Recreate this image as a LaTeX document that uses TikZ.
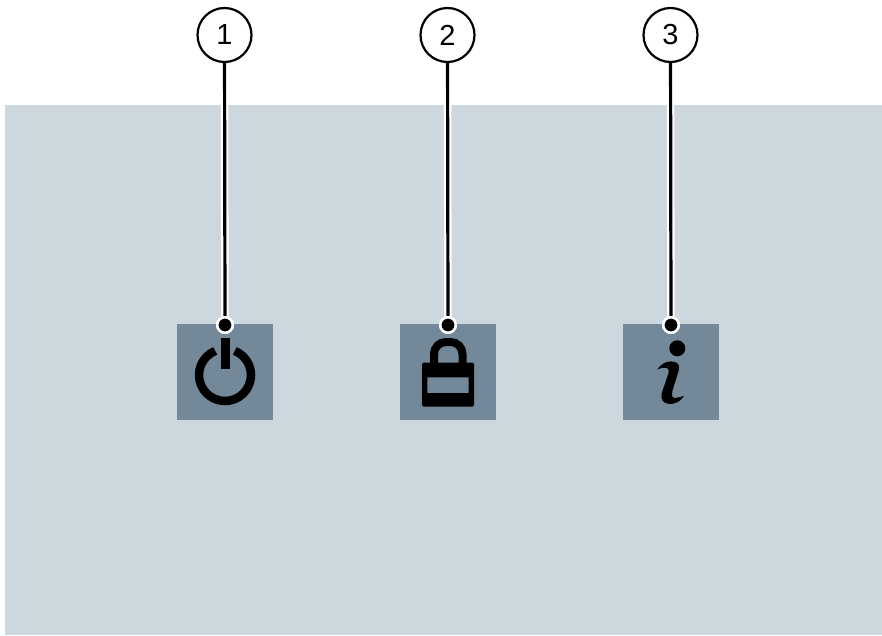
\documentclass[tikz,border=0pt]{standalone}
\usepackage{fontspec}
\setmainfont{Liberation Sans}
\definecolor{panel}{HTML}{CDD7DE}
\definecolor{tile}{HTML}{738999}
\tikzset{
  callout/.style={circle,draw=black,line width=2.2pt,fill=white,minimum size=54pt,inner sep=0pt,font=\fontsize{29}{31}\selectfont},
  tilebox/.style={fill=tile,draw=none,minimum size=96pt,inner sep=0pt},
  anchordot/.style={circle,fill=black,draw=white,line width=2.5pt,minimum size=15.5pt,inner sep=0pt},
  halo/.style={draw=white,line width=7.5pt},
  leader/.style={draw=black,line width=3.2pt},
}
\begin{document}
\begin{tikzpicture}[x=1pt,y=-1pt]
\useasboundingbox (0,0) rectangle (882,635);
\fill[panel] (4.5,105) rectangle (882,635);
\node[tilebox] (t1) at (225,372) {};
\node[tilebox] (t2) at (448,372) {};
\node[tilebox] (t3) at (671,372) {};
\node[callout] (c1) at (224.5,35) {1};
\node[callout] (c2) at (447.5,35) {2};
\node[callout] (c3) at (670.5,35) {3};
\coordinate (p1) at (224.5,105);
\coordinate (p2) at (447.5,105);
\coordinate (p3) at (670.5,105);
\node[anchordot] (d1) at (225,325) {};
\node[anchordot] (d2) at (448,325) {};
\node[anchordot] (d3) at (671,325) {};
\foreach \i in {1,2,3}{
  \draw[halo] (p\i) -- (d\i);
  \draw[leader] (c\i) -- (d\i);
}
\foreach \i in {1,2,3}{ \node[anchordot] at (d\i) {}; }
% power icon
\draw[black,line width=8.5pt] (225,375) ++(-112:26) arc[start angle=-112,end angle=-428,radius=26];
\fill[black] (220.5,338) rectangle (230,369);
% lock icon
\fill[black,rounded corners=1.5pt,even odd rule] (422,362.7) rectangle (474,406.7)
  [sharp corners] (427.3,377.3) rectangle (468.7,393);
\draw[black,line width=8pt] (434,363) -- (434,354) arc[start angle=180,end angle=270,radius=12] -- (450.5,342) arc[start angle=270,end angle=360,radius=12] -- (462.5,363);
% info icon
\fill[black] (677.3,348.3) circle[radius=8];
\begin{scope}[shift={(610,310)},x=0.3333pt,y=-0.3333pt]
\fill[black] (142,178) .. controls (158,155) and (182,150) .. (197,157)
  .. controls (207,161) and (209,170) .. (206,182)
  -- (188,240) .. controls (184,256) and (186,264) .. (194,264)
  .. controls (203,264) and (212,260) .. (222,258)
  .. controls (212,274) and (195,283) .. (178,282)
  .. controls (160,281) and (151,268) .. (155,250)
  -- (176,188) .. controls (179,174) and (170,168) .. (142,178) -- cycle;
\end{scope}
\end{tikzpicture}
\end{document}
